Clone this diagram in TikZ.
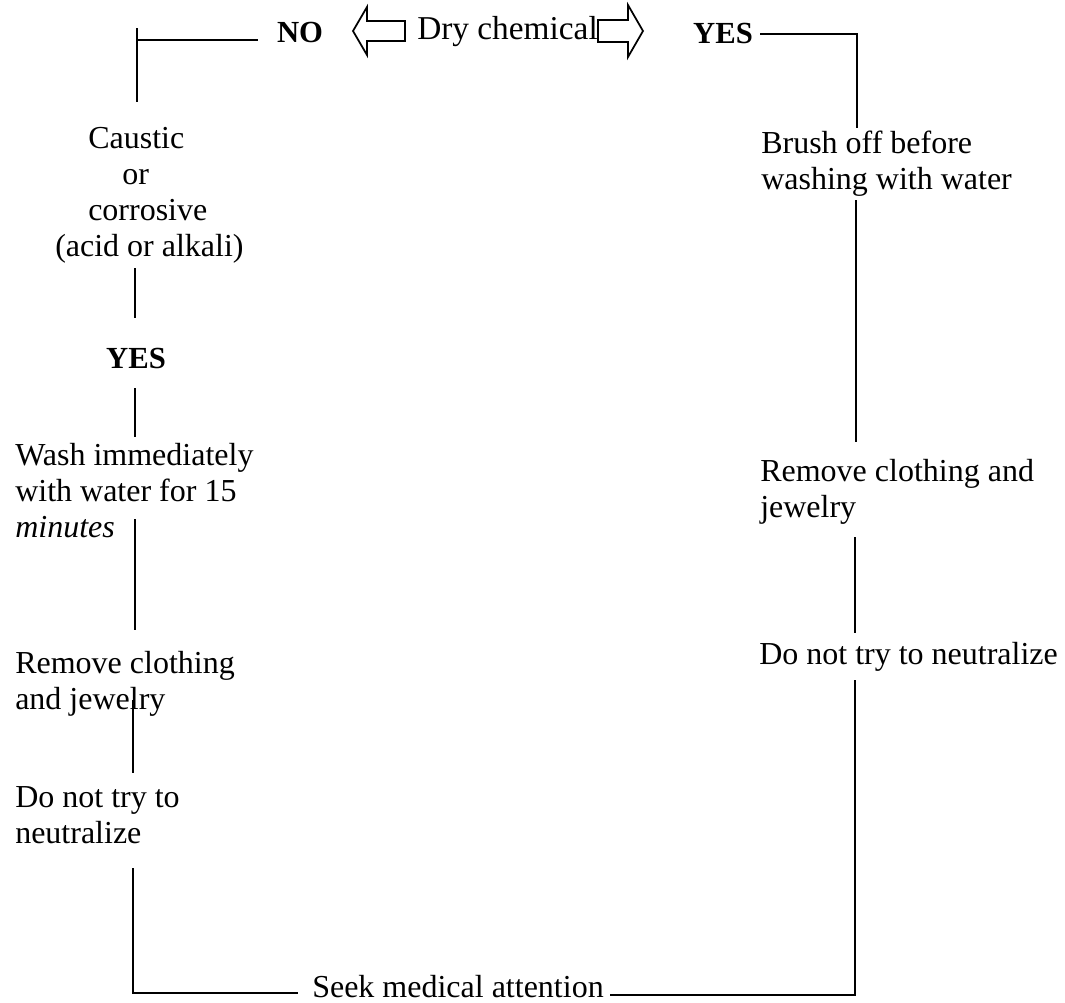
\documentclass[tikz,border=0pt]{standalone}
\usepackage{fontspec}
\setmainfont{Liberation Serif}
\begin{document}
\begin{tikzpicture}[x=0.75pt,y=-0.75pt,
  txt/.style={font=\fontsize{24}{27}\selectfont, inner sep=0pt, anchor=base west, align=left},
  lbl/.style={font=\fontsize{23}{27}\selectfont\bfseries, inner sep=0pt, anchor=base},
  link/.style={line width=1.4pt},
  hollow/.style={line width=1.3pt, line join=miter}]
\useasboundingbox (0,0) rectangle (1065,1003);

% ---- top row: decision on a dry chemical
% (multi-line nodes are placed by the baseline of their last line)
\node[lbl] (no) at (300,42) {NO};
\node[font=\fontsize{25}{30}\selectfont, inner sep=0pt, anchor=base west] (dry) at (417,40) {Dry chemical};
\node[lbl] (yes) at (723,43) {YES};
\draw[hollow] (353,31) -- (367,7) -- (367,21) -- (405,21) -- (405,41) -- (367,41) -- (367,55) -- cycle;
\draw[hollow] (598,20) -- (628,20) -- (628,5) -- (643,31) -- (628,57) -- (628,42) -- (598,42) -- cycle;

% ---- left branch
\node[txt] (caustic) at (55,256) {\hspace*{24.75pt}Caustic\\\hspace*{50.25pt}or\\\hspace*{24.75pt}corrosive\\(acid or alkali)};
\node[lbl] (yesl) at (136,368) {YES};
\node[txt] (wash) at (15,537) {Wash immediately\\with water for 15\\\textit{minutes}};
\node[txt] (removel) at (15,709) {Remove clothing\\and jewelry};
\node[txt] (neutl) at (15,843) {Do not try to\\neutralize};

% ---- right branch
\node[txt] (brush) at (761,189) {Brush off before\\washing with water};
\node[txt] (remover) at (760,517) {Remove clothing and\\jewelry};
\node[txt] (neutr) at (759,664) {Do not try to neutralize};

% ---- common end
\node[txt] (seek) at (312,997) {Seek medical attention};

% ---- connector end points
\coordinate (nl0) at (137,28);
\coordinate (nl1) at (137,40);
\coordinate (nl2) at (258,40);
\coordinate (nl3) at (137,102);
\coordinate (ca0) at (135,268);
\coordinate (ca1) at (135,318);
\coordinate (ys0) at (135,388);
\coordinate (ys1) at (135,437);
\coordinate (wa0) at (135,519);
\coordinate (wa1) at (135,630);
\coordinate (rm0) at (133,700);
\coordinate (rm1) at (133,773);
\coordinate (nt0) at (133,868);
\coordinate (bl)  at (133,993);
\coordinate (bl1) at (298,993);

\coordinate (yr0) at (760,34);
\coordinate (yr1) at (857,34);
\coordinate (yr2) at (857,128);
\coordinate (br0) at (856,200);
\coordinate (br1) at (856,442);
\coordinate (rr0) at (855,537);
\coordinate (rr1) at (855,633);
\coordinate (nr0) at (855,680);
\coordinate (br)  at (855,995);
\coordinate (br2) at (610,995);

% ---- connectors
\draw[link] (nl0) -- (nl3);
\draw[link] (nl1) -- (nl2);
\draw[link] (ca0) -- (ca1);
\draw[link] (ys0) -- (ys1);
\draw[link] (wa0) -- (wa1);
\draw[link] (rm0) -- (rm1);
\draw[link] (nt0) -- (bl) -- (bl1);
\draw[link] (yr0) -- (yr1) -- (yr2);
\draw[link] (br0) -- (br1);
\draw[link] (rr0) -- (rr1);
\draw[link] (nr0) -- (br) -- (br2);
\end{tikzpicture}
\end{document}
